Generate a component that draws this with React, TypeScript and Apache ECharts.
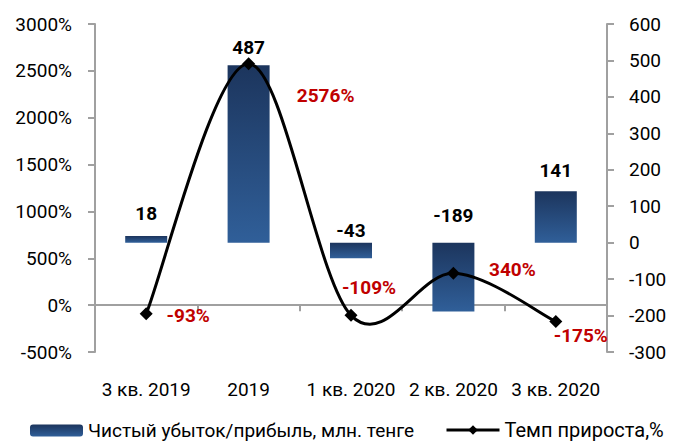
import React, { useEffect, useRef } from "react";
import * as echarts from "echarts";

const categories = ["3 кв. 2019", "2019", "1 кв. 2020", "2 кв. 2020", "3 кв. 2020"];
const profitValues = [18, 487, -43, -189, 141];
const growthValues = [-93, 2576, -109, 340, -175];
const barLabelOffsets = [-13, -8, -27, -42, -11];
const lineLabelOffsets = [[42, 2], [77, 32], [18, -28], [59, -4], [25, 14]];

const FONT = "Roboto";
const BAR_NAME = "Чистый убыток/прибыль, млн. тенге";
const LINE_NAME = "Темп прироста,%";

export default function App() {
  const ref = useRef<HTMLDivElement>(null);
  useEffect(() => {
    if (!ref.current) return;
    const chart = echarts.init(ref.current, null, { renderer: "svg" });
    const barGradient = new echarts.graphic.LinearGradient(0, 0, 0, 1, [
      { offset: 0, color: "#1c355d" },
      { offset: 1, color: "#305f99" },
    ]);
    const axisGray = "#a0a0a0";
    const legendBase = {
      bottom: 1,
      itemWidth: 53,
      itemHeight: 12,
      itemGap: 28,
      width: 400,
    };
    chart.setOption({
      animation: false,
      textStyle: { fontFamily: FONT },
      grid: { left: 95, right: 76, top: 24, bottom: 94, containLabel: false },
      legend: [
        {
          ...legendBase,
          left: 25,
          textStyle: { fontFamily: FONT, fontSize: 19, color: "#000" },
          data: [{ name: BAR_NAME }],
        },
        {
          ...legendBase,
          left: 440,
          textStyle: { fontFamily: FONT, fontSize: 20, color: "#000" },
          data: [
            {
              name: LINE_NAME,
              itemStyle: { color: "#000" },
              lineStyle: { width: 3, color: "#000", opacity: 1 },
            },
          ],
        },
      ],
      xAxis: [
        {
          type: "category",
          data: categories,
          position: "bottom",
          axisLine: { show: false, onZero: false },
          axisTick: { show: false },
          axisLabel: { interval: 0, margin: 28, fontSize: 19, color: "#000", fontFamily: FONT },
        },
        {
          type: "category",
          data: categories,
          position: "bottom",
          axisLine: { show: true, onZero: true, onZeroAxisIndex: 0, lineStyle: { color: axisGray, width: 2 } },
          axisTick: { show: true, length: 6, lineStyle: { color: axisGray, width: 2 } },
          axisLabel: { show: false },
        },
      ],
      yAxis: [
        {
          type: "value",
          min: -500,
          max: 3000,
          interval: 500,
          splitLine: { show: false },
          axisLine: { show: true, lineStyle: { color: axisGray, width: 2 } },
          axisTick: { show: true, length: 7, lineStyle: { color: axisGray, width: 2 } },
          axisLabel: {
            formatter: (v: number) => v + "%",
            fontSize: 19,
            color: "#000",
            margin: 23,
            fontFamily: FONT,
          },
        },
        {
          type: "value",
          min: -300,
          max: 600,
          interval: 100,
          splitLine: { show: false },
          axisLine: { show: true, lineStyle: { color: axisGray, width: 2 } },
          axisTick: { show: true, length: 7, lineStyle: { color: axisGray, width: 2 } },
          axisLabel: { formatter: (v: number) => String(v), fontSize: 19, color: "#000", margin: 22, fontFamily: FONT },
        },
      ],
      series: [
        {
          name: BAR_NAME,
          type: "bar",
          xAxisIndex: 0,
          yAxisIndex: 1,
          barWidth: 42,
          itemStyle: { color: barGradient },
          data: profitValues.map((v, i) => ({
            value: v,
            label: {
              show: true,
              position: v >= 0 ? "top" : "insideTop",
              distance: v >= 0 ? 0 : 5,
              lineHeight: 20,
              offset: [0, barLabelOffsets[i]],
              fontSize: 19,
              fontWeight: "bold",
              color: "#000",
              fontFamily: FONT,
            },
          })),
        },
        {
          // smooth curve through the growth points (Catmull-Rom style bezier, like Excel)
          type: "custom",
          xAxisIndex: 0,
          yAxisIndex: 0,
          silent: true,
          z: 4,
          data: growthValues.map((v, i) => [i, v]),
          renderItem: (params: any, api: any) => {
            if (params.dataIndex !== 0) return null;
            const pts = growthValues.map((v, i) => api.coord([i, v]));
            const n = pts.length;
            const a = 1 / 6;
            let d = `M${pts[0][0]},${pts[0][1]}`;
            for (let i = 0; i < n - 1; i++) {
              const p0 = pts[Math.max(i - 1, 0)];
              const p1 = pts[i];
              const p2 = pts[i + 1];
              const p3 = pts[Math.min(i + 2, n - 1)];
              const c1x = p1[0] + (p2[0] - p0[0]) * a;
              const c1y = p1[1] + (p2[1] - p0[1]) * a;
              const c2x = p2[0] - (p3[0] - p1[0]) * a;
              const c2y = p2[1] - (p3[1] - p1[1]) * a;
              d += ` C${c1x},${c1y} ${c2x},${c2y} ${p2[0]},${p2[1]}`;
            }
            return {
              type: "path",
              shape: { pathData: d },
              style: { stroke: "#000", lineWidth: 3, fill: "none" },
            };
          },
        },
        {
          name: LINE_NAME,
          type: "line",
          xAxisIndex: 0,
          yAxisIndex: 0,
          symbol: "diamond",
          symbolSize: 13,
          lineStyle: { color: "#000", width: 0, opacity: 0 },
          itemStyle: { color: "#000" },
          data: growthValues.map((v, i) => ({
            value: v,
            label: {
              show: true,
              position: "inside",
              offset: lineLabelOffsets[i],
              formatter: (p: any) => p.value + "%",
              fontSize: 19,
              fontWeight: "bold",
              color: "#c00000",
              fontFamily: FONT,
            },
          })),
          z: 5,
        },
      ],
    });
    return () => chart.dispose();
  }, []);
  return <div ref={ref} style={{ width: 683, height: 446, marginLeft: -8, marginTop: -8 }} />;
}
